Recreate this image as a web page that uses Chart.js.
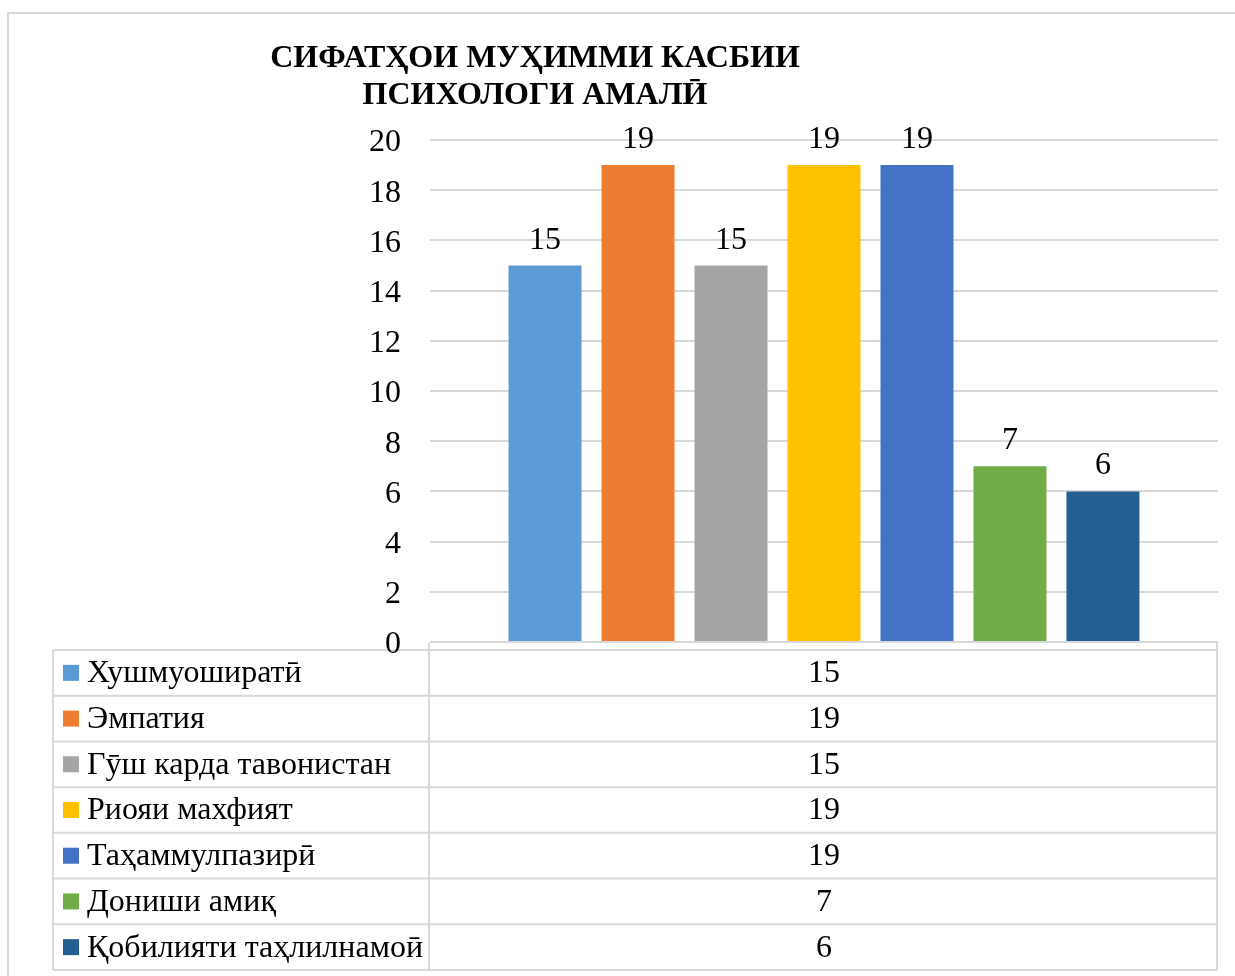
<!DOCTYPE html>
<html>
<head>
<meta charset="utf-8">
<script src="https://cdn.jsdelivr.net/npm/chart.js@4"></script>
<style>
  html, body { margin: 0; padding: 0; background: #fff; }
  #wrap { width: 1235px; height: 976px; position: relative; }
</style>
</head>
<body>
<div id="wrap"><canvas id="bar_chart" width="1235" height="976"></canvas></div>
<script>
// Сифатҳои муҳимми касбии психологи амалӣ

const titleLines = ['СИФАТҲОИ МУҲИММИ КАСБИИ', 'ПСИХОЛОГИ АМАЛӢ'];
const categories = ['Сифатҳо'];
const seriesNames = [
    'Хушмуоширатӣ',
    'Эмпатия',
    'Гӯш карда тавонистан',
    'Риояи махфият',
    'Таҳаммулпазирӣ',
    'Дониши амиқ',
    'Қобилияти таҳлилнамоӣ'
];
const seriesValues = [15, 19, 15, 19, 19, 7, 6];
const seriesColors = ['#5B9BD5', '#ED7D31', '#A5A5A5', '#FFC000', '#4472C4', '#70AD47', '#255E91'];

const serif = '"Liberation Serif", "Times New Roman", serif';
const gridColor = '#d9d9d9';
const tableTop = 650, tableBottom = 970, tableLeft = 53;

// Title, value labels and data table drawn by hand
const excelBits = {
    id: 'excelBits',
    beforeDraw(chart) {
        // frame and table grid go under everything else
        const ctx = chart.ctx;
        const area = chart.chartArea;
        const mid = area.left - 1, right = area.right - 1;
        const rowH = (tableBottom - tableTop) / seriesNames.length;
        ctx.save();
        ctx.strokeStyle = gridColor;
        ctx.lineWidth = 2;
        ctx.strokeRect(8, 13, 1240, 990);
        ctx.beginPath();
        for (let r = 0; r <= seriesNames.length; r++) {
            ctx.moveTo(tableLeft, tableTop + r * rowH); ctx.lineTo(right, tableTop + r * rowH);
        }
        ctx.moveTo(tableLeft, tableTop); ctx.lineTo(tableLeft, tableBottom);
        ctx.moveTo(mid, area.bottom + 1); ctx.lineTo(mid, tableBottom);
        ctx.moveTo(right, area.bottom + 1); ctx.lineTo(right, tableBottom);
        ctx.stroke();
        ctx.restore();
    },
    afterDraw(chart) {
        const ctx = chart.ctx;
        const x = chart.scales.x;
        ctx.save();

        // title
        ctx.fillStyle = '#000';
        ctx.font = 'bold 32px ' + serif;
        ctx.textAlign = 'center';
        ctx.textBaseline = 'middle';
        titleLines.forEach((t, i) => ctx.fillText(t, 535, 59 + i * 37));

        // value labels above bars
        ctx.font = '32px ' + serif;
        ctx.textBaseline = 'alphabetic';
        chart.data.datasets.forEach((ds, i) => {
            chart.getDatasetMeta(i).data.forEach((bar, j) => {
                ctx.fillText(String(ds.data[j]), bar.x, bar.y - 17);
            });
        });

        // data table contents
        const rowH = (tableBottom - tableTop) / seriesNames.length;
        const cx = x.getPixelForValue(0);
        seriesNames.forEach((name, r) => {
            const cy = tableTop + r * rowH + rowH / 2;
            ctx.fillStyle = seriesColors[r];
            ctx.fillRect(63, cy - 8, 16, 16);
            ctx.fillStyle = '#000';
            ctx.textAlign = 'left';
            ctx.textBaseline = 'middle';
            ctx.fillText(name, 87, cy + 1);
            ctx.textAlign = 'center';
            ctx.fillText(String(seriesValues[r]), cx, cy + 1);
        });
        ctx.restore();
    }
};

const ctx1 = document.getElementById('bar_chart');
const chartGraph1 = new Chart(ctx1, {
    type: 'bar',
    data: {
        labels: categories,
        datasets: seriesNames.map((name, i) => ({
            label: name,
            data: [seriesValues[i]],
            backgroundColor: seriesColors[i],
            barPercentage: 0.785,
            categoryPercentage: 0.826
        }))
    },
    options: {
        responsive: false,
        animation: false,
        layout: {
            padding: { top: 140, bottom: 334, left: 0, right: 17 }
        },
        scales: {
            x: {
                display: false
            },
            y: {
                min: 0,
                max: 20,
                ticks: {
                    stepSize: 2,
                    color: '#000',
                    padding: 29,
                    labelOffset: 3,
                    font: { family: serif, size: 32 }
                },
                grid: {
                    color: gridColor,
                    lineWidth: 2,
                    drawTicks: false
                },
                border: { display: false },
                afterFit: (scale) => { scale.width = 430; }
            }
        },
        plugins: {
            legend: { display: false },
            title: { display: false },
            tooltip: { enabled: false }
        }
    },
    plugins: [excelBits]
});
</script>
</body>
</html>
